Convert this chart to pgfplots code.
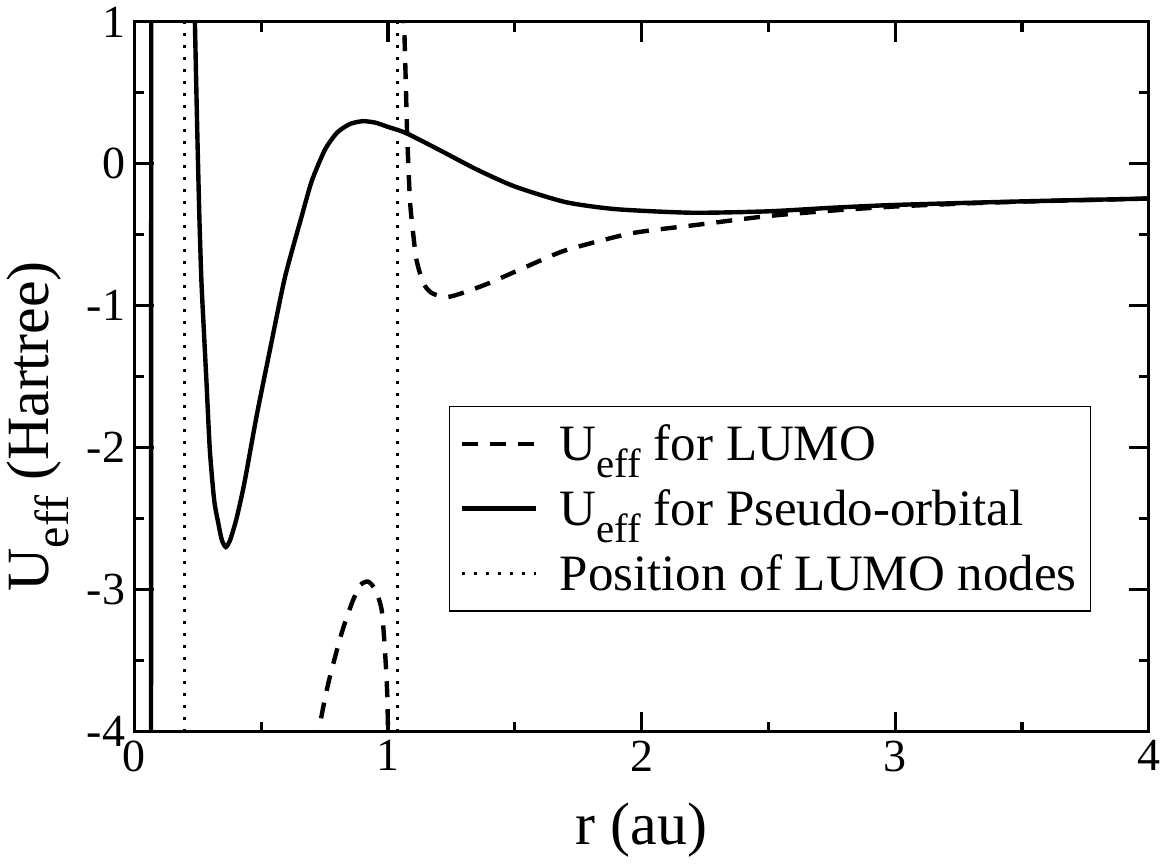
\documentclass[border=0pt]{standalone}
\usepackage{fontspec}
\setmainfont{Liberation Serif}
\usepackage{graphicx}
\usepackage{pgfplots}
\pgfplotsset{compat=1.18}
\newcommand{\eff}{\raisebox{-0.34em}{\scalebox{0.8}{eff}}}
\begin{document}
\begin{tikzpicture}
\begin{axis}[
    scale only axis,
    width=507.5pt, height=355pt,
    xmin=0, xmax=4, ymin=-4, ymax=1,
    xtick={0,1,2,3,4}, xticklabels={0,1,2,3,4},
    ytick={-4,-3,-2,-1,0,1}, yticklabels={-4,-3,-2,-1,0,1},
    minor x tick num=1, minor y tick num=1,
    tick align=inside,
    major tick length=10pt, minor tick length=5pt,
    axis line style={line width=1.6pt},
    every tick/.style={black, line width=1.6pt},
    tick label style={font=\fontsize{23}{27}\selectfont},
    xticklabel style={yshift=-1pt},
    yticklabel style={xshift=-1pt},
    label style={font=\fontsize{30}{34}\selectfont},
    xlabel={r (au)},
    ylabel={U\eff{} (Hartree)},
    ylabel style={at={(axis description cs:-0.095,0.43)}, anchor=center},
    xlabel style={yshift=-9pt},
    legend style={at={(0.310,0.459)}, anchor=north west, draw=black,
        line width=0.6pt, font=\fontsize{25.5}{29}\selectfont,
        inner xsep=5pt, inner ysep=7pt, row sep=9pt, cells={anchor=west},
        /tikz/every odd column/.append style={column sep=9pt}},
    legend image code/.code={\draw[#1] (0pt,0pt) -- (37pt,0pt);},
]

% U_eff for LUMO, outside the second node
\addplot[black, line width=2.2pt, dash pattern=on 8pt off 6pt, smooth, tension=0.4] coordinates {
(1.062,1.3)(1.064,1.0)(1.070,0.6)(1.076,0.2)(1.087,-0.26)(1.100,-0.50)
(1.113,-0.68)(1.139,-0.84)(1.172,-0.91)(1.231,-0.94)(1.303,-0.905)
(1.40,-0.84)(1.54,-0.73)(1.70,-0.61)(1.96,-0.49)(2.22,-0.43)
(2.49,-0.37)(2.75,-0.33)(3.01,-0.30)(3.3,-0.278)(3.6,-0.262)(4.0,-0.245)
};
\addlegendentry{U\eff{} for LUMO}

% U_eff for LUMO, between the nodes
\addplot[black, line width=2.2pt, dash pattern=on 8pt off 6pt, smooth, tension=0.4, forget plot] coordinates {
(0.722,-4.3)(0.728,-4.0)(0.765,-3.66)(0.817,-3.31)(0.857,-3.10)(0.89,-2.97)
(0.922,-2.944)(0.950,-3.00)(0.975,-3.14)(0.988,-3.42)(0.998,-3.77)(1.002,-4.3)
};

% U_eff for pseudo-orbital
\addplot[black, line width=2.2pt, smooth, tension=0.4] coordinates {
(0.236,1.3)(0.239,1.0)(0.245,0.5)(0.250,0.1)(0.257,-0.4)(0.265,-0.84)
(0.275,-1.2)(0.285,-1.55)(0.298,-2.02)(0.315,-2.37)(0.331,-2.53)
(0.345,-2.65)(0.361,-2.70)(0.378,-2.65)(0.403,-2.50)(0.434,-2.25)
(0.482,-1.78)(0.535,-1.31)(0.594,-0.80)(0.660,-0.37)(0.70,-0.12)
(0.752,0.10)(0.80,0.22)(0.85,0.28)(0.90,0.30)(0.95,0.29)(1.00,0.26)
(1.072,0.216)(1.2,0.10)(1.35,-0.04)(1.5,-0.16)(1.7,-0.27)(1.9,-0.32)
(2.2,-0.345)(2.5,-0.335)(2.75,-0.31)(3.0,-0.29)(3.5,-0.265)(4.0,-0.245)
};
\addlegendentry{U\eff{} for Pseudo-orbital}

\addplot[black, line width=2.2pt, forget plot] coordinates {(0.066,-4.3)(0.067,1.3)};

% LUMO nodes
\addplot[black, line width=1.5pt, dash pattern=on 1.5pt off 4.5pt] coordinates {(0.197,-4)(0.197,1)};
\addlegendentry{Position of LUMO nodes}
\addplot[black, line width=1.5pt, dash pattern=on 1.5pt off 4.5pt, forget plot] coordinates {(1.037,-4)(1.037,1)};

\end{axis}
\end{tikzpicture}
\end{document}
